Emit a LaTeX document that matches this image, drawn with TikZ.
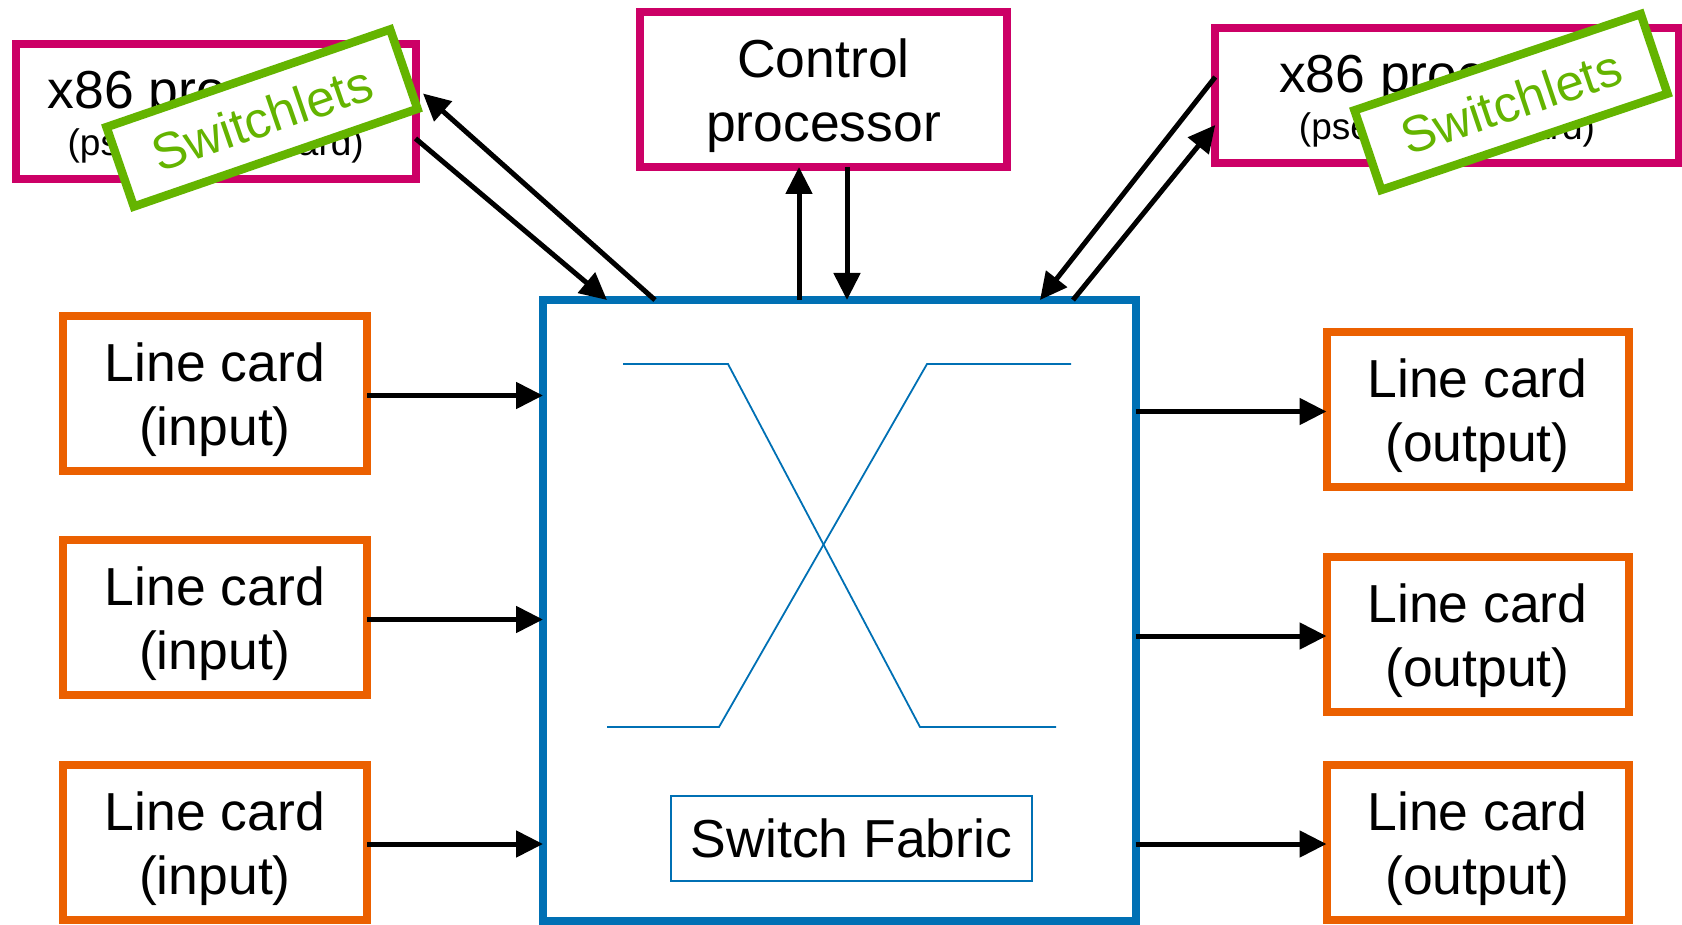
\documentclass[tikz,border=0pt]{standalone}
\usepackage{fontspec}
\setmainfont{Liberation Sans}
\usetikzlibrary{arrows.meta}
\definecolor{procpink}{RGB}{204,0,102}
\definecolor{cardorange}{RGB}{235,96,0}
\definecolor{fabblue}{RGB}{0,112,180}
\definecolor{letgreen}{RGB}{100,180,0}
\newcommand\cardstrut{\rule{0pt}{52pt}}

\begin{document}
\begin{tikzpicture}[x=1pt, y=-1pt,
  big/.style={font=\fontsize{53.5}{64}\selectfont},
  small/.style={font=\fontsize{37}{44}\selectfont},
  box/.style={draw, line width=8pt, outer sep=0pt, inner sep=0pt, fill=white},
  cardbox/.style={box, draw=cardorange, minimum width=304pt, minimum height=155pt, align=center, big},
  procbox/.style={box, draw=procpink, minimum height=135pt},
  letbox/.style={draw=letgreen, line width=8.5pt, fill=white, minimum width=300pt, minimum height=84pt,
                 inner sep=0pt, outer sep=0pt, text=letgreen, font=\fontsize{51}{60}\selectfont},
  arr/.style={-{Triangle[length=27pt,width=26pt]}, line width=5pt},
  xline/.style={fabblue, line width=1.8pt}]
\useasboundingbox (0,0) rectangle (1682,925);

% switch fabric with its crossbar
\node[box, draw=fabblue, fill=none, minimum width=592.5pt, minimum height=621pt] (fab) at (839.25,610.5) {};
\draw[xline] (623,364) -- (728,364) -- (920,727) -- (1056,727);
\draw[xline] (607,727) -- (719,727) -- (927,364) -- (1071,364);
\node[draw=fabblue, line width=1.8pt, minimum width=361pt, minimum height=85pt, big] (fablabel) at (851.5,838.5) {Switch Fabric};

% processors on top
\node[procbox, minimum width=367pt, minimum height=155pt, align=center, big] (ctrl) at (823.5,89.5) {\cardstrut Control\\processor};

\node[procbox, minimum width=399.5pt] (x86l) at (215.75,111.5) {};
\node[anchor=base, big] (x86lname) at ([yshift=3pt]x86l.center) {x86 processor};
\node[anchor=base, small] (x86lsub) at ([yshift=-44pt]x86l.center) {(pseudo line card)};
\node[letbox, rotate=19] (letl) at (262,118) {Switchlets};

\node[procbox, minimum width=463.5pt] (x86r) at (1447,95.5) {};
\node[anchor=base, big] (x86rname) at ([yshift=2.5pt]x86r.center) {x86 processor};
\node[anchor=base, small] (x86rsub) at ([yshift=-44.5pt]x86r.center) {(pseudo line card)};
\node[letbox, rotate=18.6, minimum width=302pt] (letr) at (1511,102) {Switchlets};

% control paths
\draw[arr] ([yshift=-27pt]x86l.east) -- ([xshift=64pt]fab.north west);
\draw[arr] ([xshift=112pt]fab.north west) -- ([xshift=7.5pt,yshift=18pt]x86l.east);
\draw[arr] ([xshift=-24.5pt]ctrl.south |- fab.north) -- ([xshift=-24.5pt]ctrl.south);
\draw[arr] ([xshift=23.5pt]ctrl.south) -- ([xshift=23.5pt]ctrl.south |- fab.north);
\draw[arr] ([yshift=18.5pt]x86r.west) -- ([xshift=-95.5pt]fab.north east);
\draw[arr] ([xshift=-62.5pt]fab.north east) -- ([yshift=-29.5pt]x86r.west);

% line cards
\foreach \i/\y in {1/393.5, 2/617.5, 3/842}{
  \node[cardbox] (in\i) at (215,\y) {\cardstrut Line card\\(input)};
  \draw[arr] ([yshift=-2pt]in\i.east) -- ([yshift=-2pt]in\i.east -| fab.west);
}
\foreach \i/\y in {1/409.5, 2/634, 3/842}{
  \node[cardbox, minimum width=302pt] (out\i) at (1477.5,\y) {\cardstrut Line card\\(output)};
  \draw[arr] ([yshift=-2pt]out\i.west -| fab.east) -- ([yshift=-2pt]out\i.west);
}
\end{tikzpicture}
\end{document}
